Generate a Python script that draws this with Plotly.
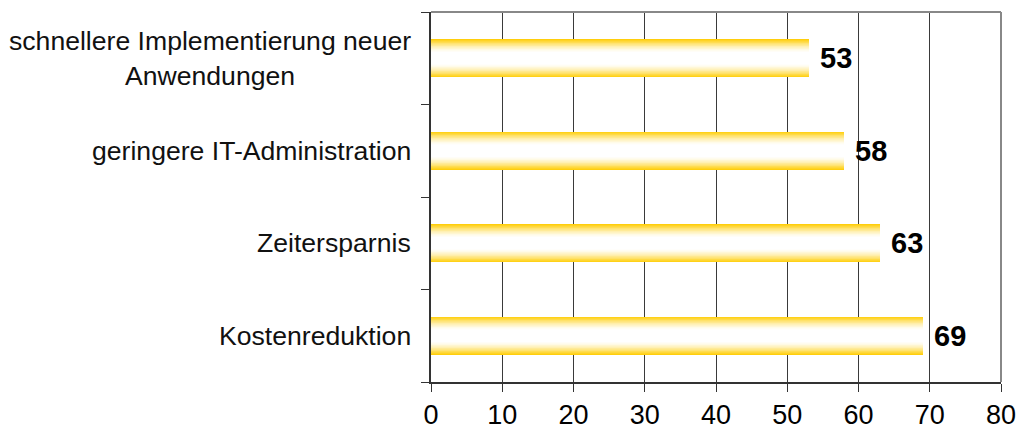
import plotly.graph_objects as go

# Survey results: reasons for adoption (percent of respondents)
categories = [
    "Kostenreduktion",
    "Zeitersparnis",
    "geringere IT-Administration",
    "schnellere Implementierung neuer<br>Anwendungen",
]
values = [69, 63, 58, 53]
x_ticks = [0, 10, 20, 30, 40, 50, 60, 70, 80]

GOLD = (255, 204, 0)
WHITE = (255, 255, 255)
BAR_WIDTH = 0.415
FONT = "Liberation Sans, Arial, sans-serif"

positions = list(range(len(categories)))


def blend(t):
    r = [round(WHITE[i] + (GOLD[i] - WHITE[i]) * t) for i in range(3)]
    return f"rgb({r[0]},{r[1]},{r[2]})"


fig = go.Figure()

# Vertical gold-white-gold gradient built from nested, progressively
# narrower bars sharing the same values.
n_layers = 32
inner = 0.3
for k in range(n_layers):
    d = 1.0 - k * (1.0 - inner) / (n_layers - 1)
    t = ((d - inner) / (1.0 - inner)) ** 1.5
    fig.add_trace(go.Bar(
        x=values,
        y=positions,
        orientation="h",
        width=BAR_WIDTH * d,
        marker=dict(color=blend(t), line=dict(width=0)),
        hoverinfo="skip" if k else "x",
        showlegend=False,
    ))

annotations = []
for pos, v in zip(positions, values):
    annotations.append(dict(
        x=v, y=pos, xref="x", yref="y",
        text=f"<b>{v}</b>", showarrow=False,
        xanchor="left", yanchor="middle", xshift=9,
        font=dict(family=FONT, size=29, color="black"),
    ))
for pos, name in zip(positions, categories):
    annotations.append(dict(
        x=0, y=pos, xref="paper", yref="y",
        text=name, showarrow=False,
        xanchor="right", yanchor="middle", align="center", xshift=-18,
        font=dict(family=FONT, size=26.6, color="#111111"),
    ))

fig.update_layout(
    width=1018, height=432,
    margin=dict(l=431, r=17, t=12, b=50, autoexpand=False),
    paper_bgcolor="white", plot_bgcolor="white",
    barmode="overlay",
    bargap=0,
    annotations=annotations,
    shapes=[
        dict(type="line", xref="paper", yref="paper", x0=0, x1=1, y0=1, y1=1,
             line=dict(color="#888888", width=2), layer="above"),
        dict(type="line", xref="paper", yref="paper", x0=1, x1=1, y0=0, y1=1,
             line=dict(color="#888888", width=2), layer="above"),
    ],
    xaxis=dict(
        range=[0, 80], tickvals=x_ticks, ticktext=[str(v) for v in x_ticks],
        showgrid=True, gridcolor="#3a3a3a", gridwidth=1, zeroline=False,
        showline=True, linecolor="#333333", linewidth=2,
        ticks="outside", ticklen=8, tickwidth=1, tickcolor="#333333",
        tickfont=dict(family=FONT, size=27, color="black"),
        automargin=False, fixedrange=True,
    ),
    yaxis=dict(
        range=[-0.5, len(categories) - 0.5],
        tickvals=[p - 0.5 for p in positions] + [len(categories) - 0.5],
        showticklabels=False, showgrid=False, zeroline=False,
        showline=True, linecolor="#333333", linewidth=2,
        ticks="outside", ticklen=8, tickwidth=1, tickcolor="#333333",
        automargin=False, fixedrange=True,
    ),
)

fig.write_html("out.html")
